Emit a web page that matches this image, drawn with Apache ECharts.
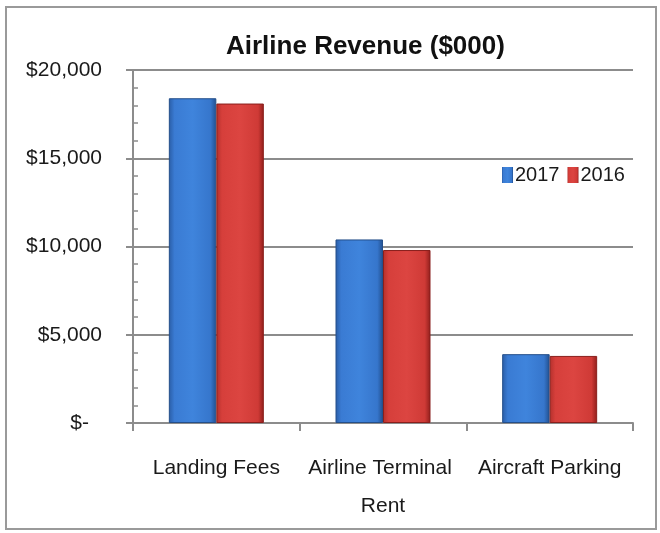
<!DOCTYPE html>
<html>
<head>
<meta charset="utf-8">
<script src="https://cdn.jsdelivr.net/npm/echarts@6/dist/echarts.min.js"></script>
<style>html,body{margin:0;padding:0;background:#fff;}#c{width:660px;height:533px;}</style>
</head>
<body>
<div id="c"></div>
<script>
var categories = ['Landing Fees', 'Airline Terminal Rent', 'Aircraft Parking'];
var seriesNames = ['2017', '2016'];
var values2017 = [18400, 10400, 3900];
var values2016 = [18100, 9800, 3800];
var yTicks = [0, 5000, 10000, 15000, 20000];

var FONT = '"Liberation Sans", Arial, sans-serif';
var chart = echarts.init(document.getElementById('c'), null, {renderer: 'canvas'});

function grad(stops) {
  return new echarts.graphic.LinearGradient(0, 0, 1, 0, stops);
}
var blueGrad = grad([
  {offset: 0, color: '#2a5da6'}, {offset: 0.12, color: '#3a7bd3'},
  {offset: 0.5, color: '#3f84dc'}, {offset: 0.88, color: '#3676cc'}, {offset: 1, color: '#214f8e'}
]);
var redGrad = grad([
  {offset: 0, color: '#b3302c'}, {offset: 0.12, color: '#d63f3b'},
  {offset: 0.5, color: '#dc4541'}, {offset: 0.88, color: '#cf3a36'}, {offset: 1, color: '#8f1e1b'}
]);

chart.setOption({
  animation: false,
  backgroundColor: '#ffffff',
  graphic: [{
    type: 'rect', silent: true,
    shape: {x: 6, y: 7, width: 650, height: 522},
    style: {fill: 'none', stroke: '#9a9a9a', lineWidth: 2}
  }],
  title: {
    text: 'Airline Revenue ($000)',
    left: 226, top: 34, padding: 0,
    textStyle: {fontFamily: FONT, fontSize: 26, fontWeight: 'bold', color: '#111'}
  },
  legend: {
    data: seriesNames,
    left: 502, top: 165, padding: 0,
    itemWidth: 11, itemHeight: 16, itemGap: 8,
    icon: 'rect',
    itemStyle: {borderWidth: 0},
    textStyle: {fontFamily: FONT, fontSize: 20, color: '#1a1a1a', padding: [0, 0, 0, -3]}
  },
  grid: {left: 133, right: 27, top: 70, bottom: 110, containLabel: false},
  xAxis: {
    type: 'category',
    data: categories,
    axisLine: {lineStyle: {color: '#8c8c8c', width: 2}},
    axisTick: {show: true, length: 8, lineStyle: {color: '#8c8c8c', width: 2}},
    axisLabel: {
      interval: 0, margin: 26, width: 162, overflow: 'break',
      fontFamily: FONT, fontSize: 21, color: '#1a1a1a', lineHeight: 38
    }
  },
  yAxis: {
    type: 'value',
    min: yTicks[0], max: yTicks[yTicks.length - 1], interval: 5000,
    axisLine: {show: true, lineStyle: {color: '#8c8c8c', width: 2}},
    axisTick: {show: true, length: 7, lineStyle: {color: '#8c8c8c', width: 2}},
    minorTick: {show: true, splitNumber: 5, length: -5, lineStyle: {color: '#8c8c8c', width: 1.5}},
    splitLine: {show: true, lineStyle: {color: '#8c8c8c', width: 2}},
    axisLabel: {
      margin: 31, fontFamily: FONT, fontSize: 21, color: '#1a1a1a',
      formatter: function (v) {
        if (v === 0) return '{z|$-}';
        return '$' + v.toLocaleString('en-US');
      },
      rich: {z: {fontFamily: FONT, fontSize: 21, color: '#1a1a1a', padding: [0, 13, 0, 0]}}
    }
  },
  series: [
    {
      name: seriesNames[0], type: 'bar', data: values2017,
      barGap: '0%', barCategoryGap: '43%',
      itemStyle: {color: blueGrad, borderColor: '#244f8a', borderWidth: 1}
    },
    {
      name: seriesNames[1], type: 'bar', data: values2016,
      barGap: '0%', barCategoryGap: '43%',
      itemStyle: {color: redGrad, borderColor: '#8a1f1c', borderWidth: 1}
    }
  ]
});
</script>
</body>
</html>
